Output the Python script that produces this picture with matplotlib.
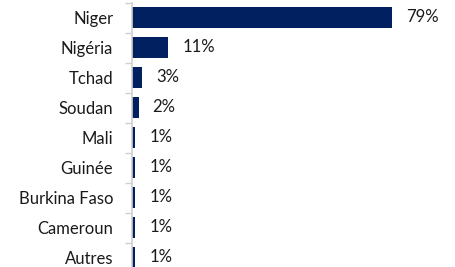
import matplotlib
matplotlib.use("Agg")
import matplotlib.pyplot as plt

categories = ["Niger", "Nigéria", "Tchad", "Soudan", "Mali", "Guinée", "Burkina Faso", "Cameroun", "Autres"]
values = [79, 11, 3, 2, 1, 1, 1, 1, 1]
labels = ["79%", "11%", "3%", "2%", "1%", "1%", "1%", "1%", "1%"]

plt.rcParams['font.family'] = ['Lato', 'DejaVu Sans']

W, H = 456, 267
fig = plt.figure(figsize=(W/100, H/100), dpi=100)
left = 132 / W
top_px, bot_px = 2.5, 272.5
ax = fig.add_axes([left, (H - bot_px) / H, 1 - left, (bot_px - top_px) / H])

n = len(categories)
pos = list(range(n))
ax.barh(pos, values, height=0.73, color="#002060", edgecolor="none")
ax.set_ylim(n - 0.5, -0.5)
xmax = (W - 132) / (260 / 79)
ax.set_xlim(0, xmax)

fs = 12
for p, v, lab in zip(pos, values, labels):
    ax.text(v + 14 / (260 / 79), p, lab, va="center", ha="left", fontsize=fs, color="#1a1a1a")

ax.set_yticks([p for p in pos])
ax.set_yticklabels(categories, fontsize=fs, color="#1a1a1a")
ax.tick_params(axis="y", length=0, pad=13.5)
ax.set_yticks([p - 0.5 for p in pos] + [n - 0.5], minor=True)
ax.tick_params(axis="y", which="minor", length=5, color="#d0d0d0", width=1)
ax.set_xticks([])
for s in ["top", "right", "bottom"]:
    ax.spines[s].set_visible(False)
ax.spines["left"].set_color("#d0d0d0")
ax.spines["left"].set_linewidth(1.2)

fig.savefig("out.png", dpi=100)
